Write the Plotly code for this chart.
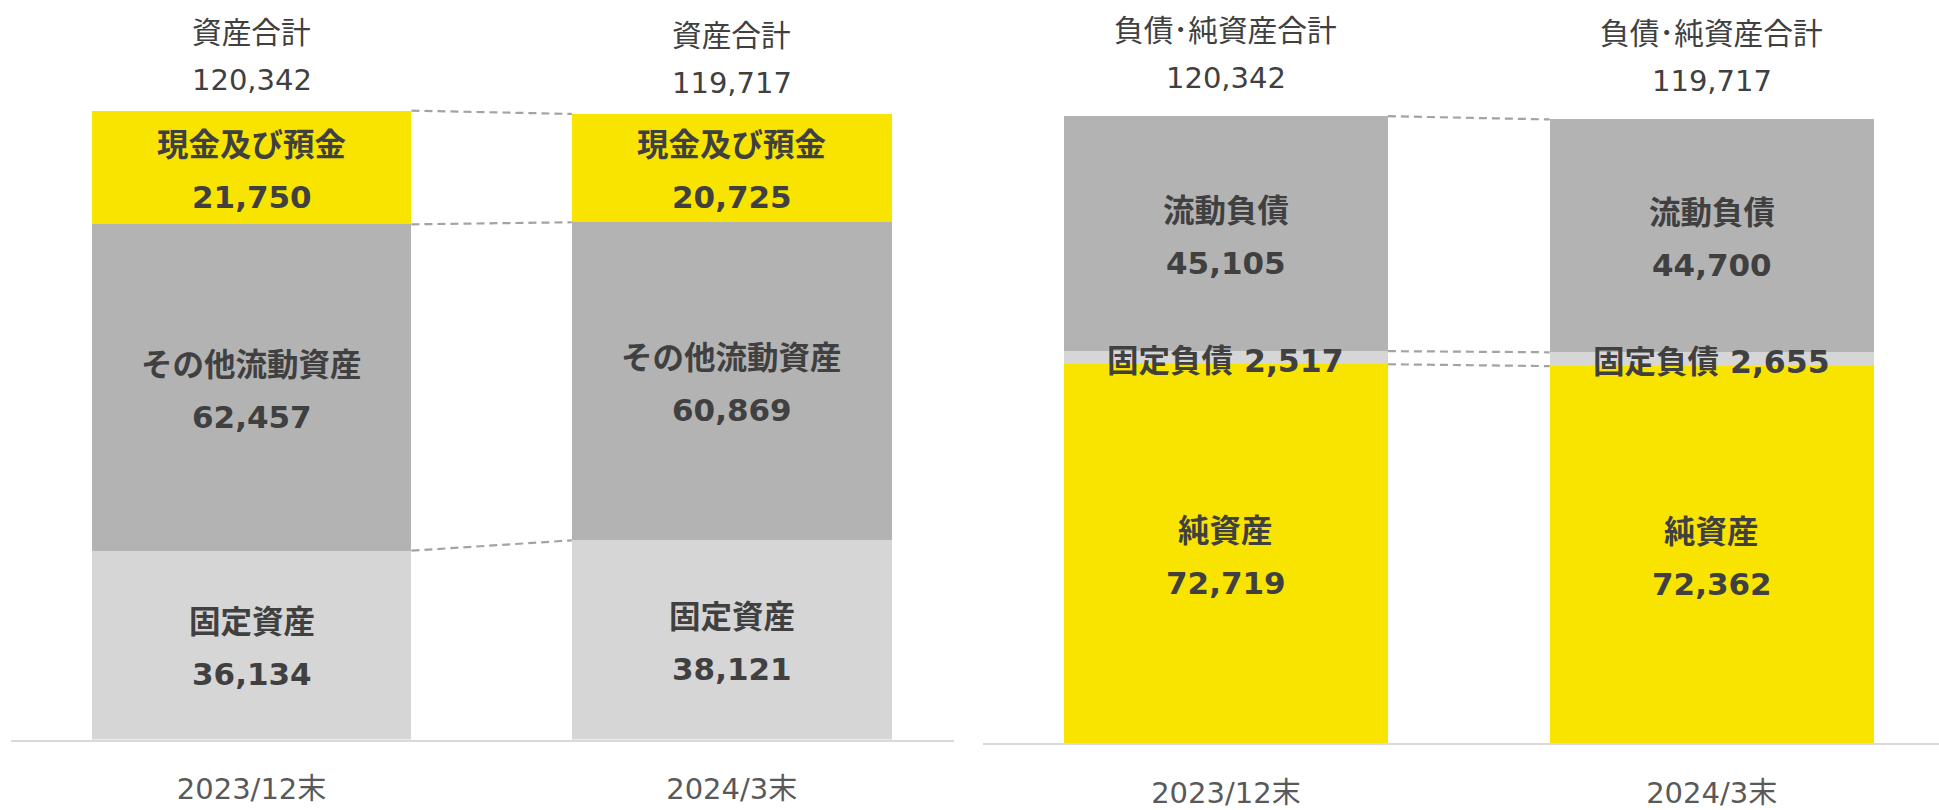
import plotly.graph_objects as go

# データ（百万円）
periods = ["2023/12末", "2024/3末"]

asset_names = ["固定資産", "その他流動資産", "現金及び預金"]
asset_values = [[36134, 38121], [62457, 60869], [21750, 20725]]
asset_colors = ["#D6D6D6", "#B3B3B3", "#F9E400"]
asset_total = [120342, 119717]

liab_names = ["純資産", "固定負債", "流動負債"]
liab_values = [[72719, 72362], [2517, 2655], [45105, 44700]]
liab_colors = ["#F9E400", "#D6D6D6", "#B3B3B3"]
liab_total = [120342, 119717]

FAMILY = "DejaVu Sans, Noto Sans CJK JP"
NAME_FONT = dict(family=FAMILY, size=31.5, color="#404040")
VAL_FONT = dict(family=FAMILY, size=31, color="#404040")
TITLE_FONT = dict(family=FAMILY, size=29.7, color="#404040")
TOTAL_FONT = dict(family=FAMILY, size=29, color="#404040")

fig = go.Figure()
annotations = []


def panel(names, values, colors, totals, title, xa, ya, width, top_shift, single=()):
    xs = list(range(len(periods)))
    base = [0] * len(periods)
    bounds = []
    for name, vals, col in zip(names, values, colors):
        fig.add_trace(go.Bar(x=xs, y=vals, width=width, marker=dict(color=col, line_width=0),
                             xaxis=xa, yaxis=ya, showlegend=False, hoverinfo="skip"))
        for i, v in enumerate(vals):
            mid = base[i] + v / 2
            if name in single:
                annotations.append(dict(x=i, y=mid, xref=xa, yref=ya, showarrow=False,
                                        text=f"<b>{name} {v:,}</b>", font=NAME_FONT, yshift=-3))
            else:
                annotations.append(dict(x=i, y=mid, xref=xa, yref=ya, showarrow=False,
                                        text=f"<b>{name}</b>", font=NAME_FONT, yshift=23))
                annotations.append(dict(x=i, y=mid, xref=xa, yref=ya, showarrow=False,
                                        text=f"<b>{v:,}</b>", font=VAL_FONT, yshift=-29))
            base[i] += v
        bounds.append(list(base))
    # 合計ラベル
    for i, t in enumerate(totals):
        annotations.append(dict(x=i, y=t, xref=xa, yref=ya, showarrow=False,
                                text=title, font=TITLE_FONT, yshift=top_shift[0]))
        annotations.append(dict(x=i, y=t, xref=xa, yref=ya, showarrow=False,
                                text=f"{t:,}", font=TOTAL_FONT, yshift=top_shift[1]))
    # 破線の接続線
    lx, ly = [], []
    for b in bounds[:-1] + [totals]:
        lx += [0 + width / 2, 1 - width / 2, None]
        ly += [b[0], b[1], None]
    fig.add_trace(go.Scatter(x=lx, y=ly, mode="lines", xaxis=xa, yaxis=ya,
                             line=dict(color="#A3A3A3", width=2.2, dash="8px,5px"),
                             showlegend=False, hoverinfo="skip"))


panel(asset_names, asset_values, asset_colors, asset_total, "資産合計", "x", "y", 0.666, (78, 31))
panel(liab_names, liab_values, liab_colors, liab_total, "負債･純資産合計", "x2", "y2", 0.667, (86, 38),
      single=("固定負債",))

xax = dict(tickvals=[0, 1], ticktext=periods, showgrid=False, zeroline=False,
           showline=True, linecolor="#D9D9D9", linewidth=2, ticks="",
           tickfont=dict(family=FAMILY, size=29, color="#595959"),
           ticklabelstandoff=23)
yax = dict(visible=False, showgrid=False, zeroline=False)

fig.update_layout(
    width=1939, height=810,
    margin=dict(l=0, r=0, t=0, b=0),
    paper_bgcolor="white", plot_bgcolor="white",
    barmode="stack", bargap=0,
    xaxis=dict(xax, domain=[11 / 1939, 954 / 1939], range=[-0.501, 1.463]),
    yaxis=dict(yax, domain=[64 / 810, 1], range=[0, 141520]),
    xaxis2=dict(xax, domain=[983 / 1939, 1], range=[-0.5, 1.468], anchor="y2"),
    yaxis2=dict(yax, domain=[60.5 / 810, 1], range=[0, 142650], anchor="x2"),
    annotations=annotations,
)

# ページの既定余白とはみ出しを消して、図をウィンドウ(1939x810)にちょうど合わせる
page_css = ("document.documentElement.style.overflow='hidden';"
            "document.body.style.margin='0';"
            "document.body.style.height='810px';"
            "document.body.style.overflow='hidden';")
fig.write_html("out.html", config={"displayModeBar": False}, post_script=page_css)
